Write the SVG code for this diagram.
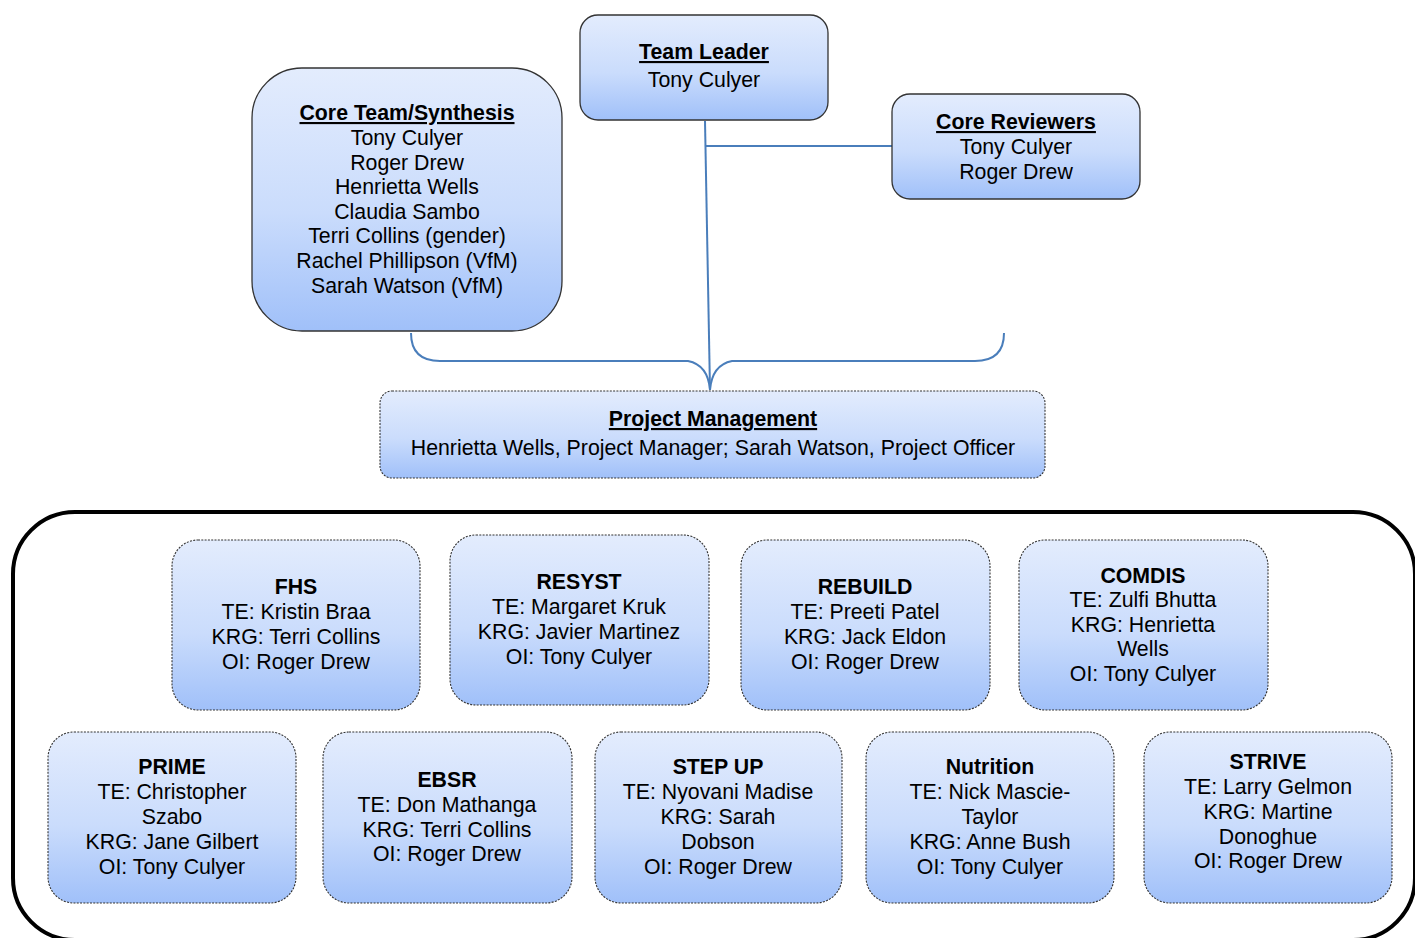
<svg xmlns="http://www.w3.org/2000/svg" width="1415" height="938" viewBox="0 0 1415 938">
<defs>
<linearGradient id="g" x1="0" y1="0" x2="0" y2="1">
<stop offset="0" stop-color="#e3ecfd"/>
<stop offset="0.55" stop-color="#cadcfc"/>
<stop offset="1" stop-color="#a0c0f9"/>
</linearGradient>
<style>
.solid{fill:url(#g);stroke:#333;stroke-width:1.3}
.dash{fill:url(#g);stroke:#333;stroke-width:1.1;stroke-dasharray:2 1.3}
text{font-family:"Liberation Sans",Arial,sans-serif;font-size:21.3px;fill:#000;text-anchor:middle}
.t{font-weight:bold;text-decoration:underline}
.b{font-weight:bold}
.c{fill:none;stroke:#4a7ebb;stroke-width:2}
</style>
</defs>
<rect x="13" y="512" width="1402" height="428" rx="62" fill="none" stroke="#000" stroke-width="4"/>
<g id="connectors">
<path class="c" d="M705 121 L710 390"/>
<path class="c" d="M705 146 L892 146"/>
<path class="c" d="M411 333 Q411 361 440 361 L688 361 Q708 365 710 390 Q712 365 732 361 L975 361 Q1004 361 1004 333"/>
</g>
<g id="team-leader">
<rect class="solid" x="580" y="15" width="248" height="105" rx="18"/>
<text class="t" x="704" y="59">Team Leader</text>
<text x="704" y="87">Tony Culyer</text>
</g>
<g id="core-team">
<rect class="solid" x="252" y="68" width="310" height="263" rx="50"/>
<text class="t" x="407" y="120">Core Team/Synthesis</text>
<text x="407" y="145">Tony Culyer</text>
<text x="407" y="170">Roger Drew</text>
<text x="407" y="194">Henrietta Wells</text>
<text x="407" y="219">Claudia Sambo</text>
<text x="407" y="243">Terri Collins (gender)</text>
<text x="407" y="268">Rachel Phillipson (VfM)</text>
<text x="407" y="293">Sarah Watson (VfM)</text>
</g>
<g id="core-reviewers">
<rect class="solid" x="892" y="94" width="248" height="105" rx="18"/>
<text class="t" x="1016" y="129">Core Reviewers</text>
<text x="1016" y="154">Tony Culyer</text>
<text x="1016" y="179">Roger Drew</text>
</g>
<g id="project-management">
<rect class="dash" x="380" y="391" width="665" height="87" rx="12"/>
<text class="t" x="713" y="426">Project Management</text>
<text x="713" y="455">Henrietta Wells, Project Manager; Sarah Watson, Project Officer</text>
</g>
<g id="fhs">
<rect class="dash" x="172" y="540" width="248" height="170" rx="26"/>
<text class="b" x="296" y="594">FHS</text>
<text x="296" y="619">TE: Kristin Braa</text>
<text x="296" y="644">KRG: Terri Collins</text>
<text x="296" y="669">OI: Roger Drew</text>
</g>
<g id="resyst">
<rect class="dash" x="450" y="535" width="259" height="170" rx="26"/>
<text class="b" x="579" y="589">RESYST</text>
<text x="579" y="614">TE: Margaret Kruk</text>
<text x="579" y="639">KRG: Javier Martinez</text>
<text x="579" y="664">OI: Tony Culyer</text>
</g>
<g id="rebuild">
<rect class="dash" x="741" y="540" width="249" height="170" rx="26"/>
<text class="b" x="865" y="594">REBUILD</text>
<text x="865" y="619">TE: Preeti Patel</text>
<text x="865" y="644">KRG: Jack Eldon</text>
<text x="865" y="669">OI: Roger Drew</text>
</g>
<g id="comdis">
<rect class="dash" x="1019" y="540" width="249" height="170" rx="26"/>
<text class="b" x="1143" y="583">COMDIS</text>
<text x="1143" y="607">TE: Zulfi Bhutta</text>
<text x="1143" y="632">KRG: Henrietta</text>
<text x="1143" y="656">Wells</text>
<text x="1143" y="681">OI: Tony Culyer</text>
</g>
<g id="prime">
<rect class="dash" x="48" y="732" width="248" height="171" rx="26"/>
<text class="b" x="172" y="774">PRIME</text>
<text x="172" y="799">TE: Christopher</text>
<text x="172" y="824">Szabo</text>
<text x="172" y="849">KRG: Jane Gilbert</text>
<text x="172" y="874">OI: Tony Culyer</text>
</g>
<g id="ebsr">
<rect class="dash" x="323" y="732" width="249" height="171" rx="26"/>
<text class="b" x="447" y="787">EBSR</text>
<text x="447" y="812">TE: Don Mathanga</text>
<text x="447" y="837">KRG: Terri Collins</text>
<text x="447" y="861">OI: Roger Drew</text>
</g>
<g id="step-up">
<rect class="dash" x="595" y="732" width="247" height="171" rx="26"/>
<text class="b" x="718" y="774">STEP UP</text>
<text x="718" y="799">TE: Nyovani Madise</text>
<text x="718" y="824">KRG: Sarah</text>
<text x="718" y="849">Dobson</text>
<text x="718" y="874">OI: Roger Drew</text>
</g>
<g id="nutrition">
<rect class="dash" x="866" y="732" width="248" height="171" rx="26"/>
<text class="b" x="990" y="774">Nutrition</text>
<text x="990" y="799">TE: Nick Mascie-</text>
<text x="990" y="824">Taylor</text>
<text x="990" y="849">KRG: Anne Bush</text>
<text x="990" y="874">OI: Tony Culyer</text>
</g>
<g id="strive">
<rect class="dash" x="1144" y="732" width="248" height="171" rx="26"/>
<text class="b" x="1268" y="769">STRIVE</text>
<text x="1268" y="794">TE: Larry Gelmon</text>
<text x="1268" y="819">KRG: Martine</text>
<text x="1268" y="844">Donoghue</text>
<text x="1268" y="868">OI: Roger Drew</text>
</g>
</svg>
